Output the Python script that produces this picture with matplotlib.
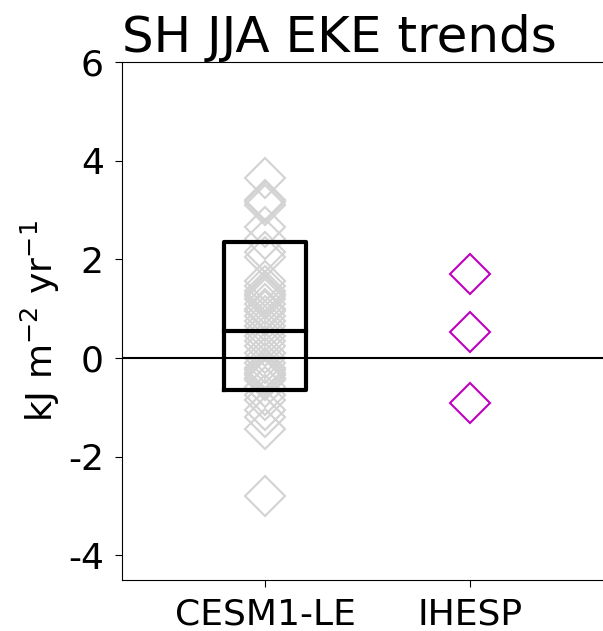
import matplotlib.pyplot as plt
import numpy as np

plt.rcParams['axes.unicode_minus'] = False

# EKE trend per ensemble member (kJ m-2 yr-1)
cesm_trends = [3.65, 3.2, 3.15, 3.1, 2.65, 2.4, 2.15, 2.05,
               1.55, 1.45, 1.35, 1.3, 1.25, 1.2, 1.1, 1.0, 0.95, 0.85, 0.75, 0.65,
               0.55, 0.45, 0.35, 0.25, 0.1, 0.0, -0.1, -0.2, -0.25, -0.3, -0.35,
               -0.4, -0.45, -0.6, -0.75, -0.85, -1.05, -1.2, -1.45, -2.8]
ihesp_trends = [1.7, 0.53, -0.92]

# spread box for the large ensemble: lower, median, upper
cesm_box = [-0.65, 0.55, 2.35]

labels = ['CESM1-LE', 'IHESP']

fig = plt.figure(figsize=(6.03, 6.31), dpi=100)
ax = fig.add_axes([0.202, 0.081, 0.815, 0.821])

ax.plot(np.zeros(len(cesm_trends)), cesm_trends, 'D', ms=20, mfc='none',
        mec='lightgray', mew=1.5)
ax.plot(np.ones(len(ihesp_trends)), ihesp_trends, 'D', ms=20, mfc='none',
        mec='m', mew=1.5)

lo, med, hi = cesm_box
w = 0.2
ax.plot([-w, w, w, -w, -w], [lo, lo, hi, hi, lo], color='k', lw=3)
ax.plot([-w, w], [med, med], color='k', lw=3)

ax.axhline(0, color='k', lw=1.5)

ax.set_xlim(-0.7, 1.7)
ax.set_ylim(-4.5, 6)
ax.set_xticks([0, 1])
ax.set_xticklabels(labels)
ax.set_yticks([-4, -2, 0, 2, 4, 6])
ax.tick_params(labelsize=26, length=5, pad=8)
ax.set_ylabel('kJ m$^{-2}$ yr$^{-1}$', fontsize=26)
ax.set_title('SH JJA EKE trends', fontsize=36, loc='left', x=0.0)

fig.savefig('out.png', dpi=100)
